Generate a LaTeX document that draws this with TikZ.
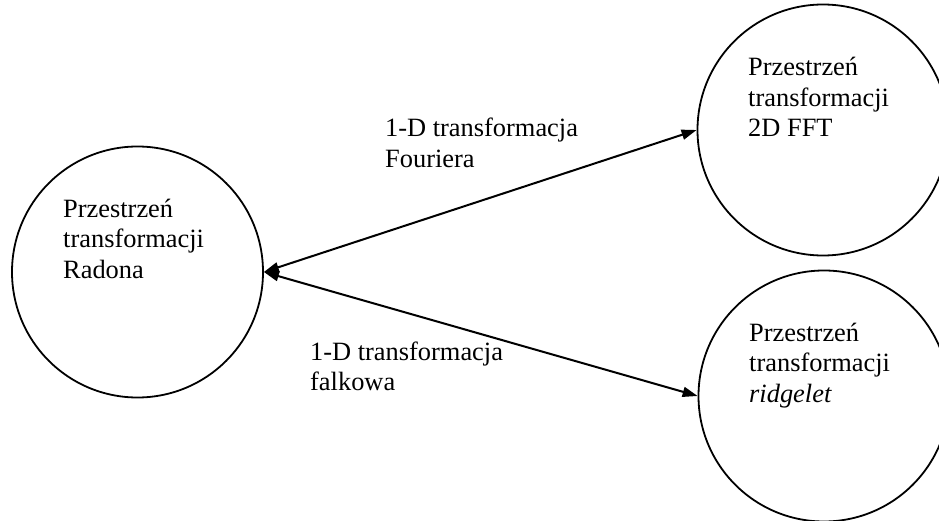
\documentclass[tikz,border=0pt]{standalone}
\usepackage{fontspec}
\setmainfont{Liberation Serif}
\usetikzlibrary{arrows.meta}
\begin{document}
\begin{tikzpicture}[x=1pt,y=1pt,
  state/.style={circle,draw,line width=1.8pt,minimum size=251pt,inner sep=0pt},
  txt/.style={anchor=base west,inner sep=0pt,align=left,font=\fontsize{26.4}{30.5}\selectfont},
  conn/.style={{Triangle[length=15pt,width=10pt]}-{Triangle[length=15pt,width=10pt]},line width=2pt}]
\useasboundingbox (0,0) rectangle (939,520);
\clip (0,0) rectangle (939,520);
\node[state] (L) at (137.5,248) {};
\node[state] (T) at (823,390) {};
\node[state] (B) at (824,124) {};
\draw[conn] (L.east) -- (T.west);
\draw[conn] (L.east) -- (B.west);
\node[txt] (Lt) at (63,242) {Przestrzeń\\transformacji\\Radona};
\node[txt] (Tt) at (748,383) {Przestrzeń\\transformacji\\2D FFT};
\node[txt] (Bt) at (749,118) {Przestrzeń\\transformacji\\\textit{ridgelet}};
\node[txt] (Fl) at (385,352.5) {1-D transformacja\\Fouriera};
\node[txt] (Wl) at (310,129.5) {1-D transformacja\\falkowa};
\end{tikzpicture}
\end{document}
